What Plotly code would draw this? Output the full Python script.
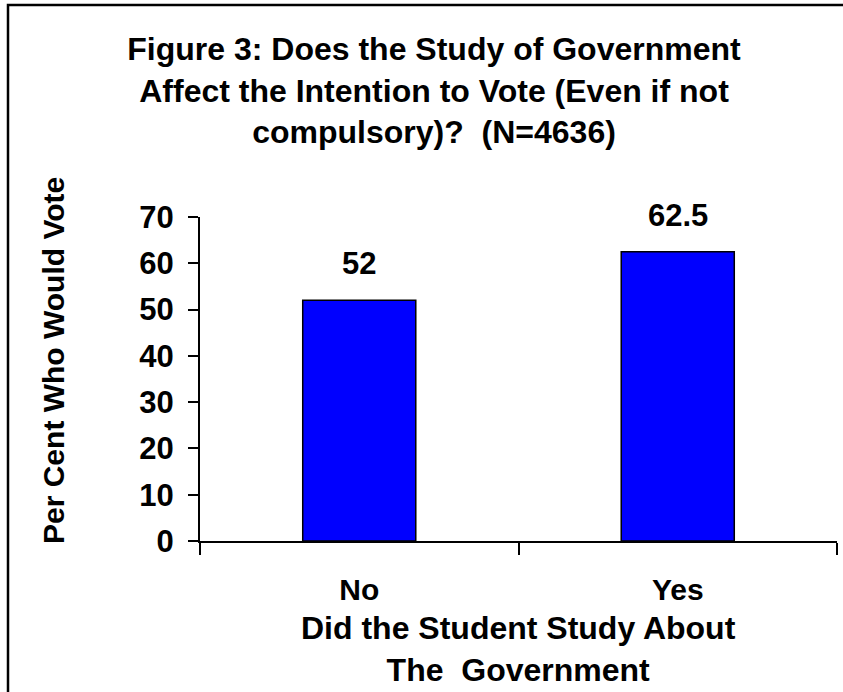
import plotly.graph_objects as go

# Survey result: share of students who would vote, by whether they studied government
categories = ["No", "Yes"]
percent_vote = [52, 62.5]
y_ticks = [0, 10, 20, 30, 40, 50, 60, 70]

title_text = ("Figure 3: Does the Study of Government<br>"
              "Affect the Intention to Vote (Even if not<br>"
              "compulsory)?\u00a0\u00a0(N=4636)")
x_title = "Did the Student Study About<br>The\u00a0\u00a0Government"
y_title = "Per Cent Who Would Vote"

FONT = "Liberation Sans, Arial, sans-serif"
W, H = 843, 692
L, R, T, B = 200, 6, 217, 151
plot_w = W - L - R
plot_h = H - T - B

xs = list(range(len(categories)))
bounds = [i - 0.5 for i in range(len(categories) + 1)]

fig = go.Figure()
fig.add_trace(go.Bar(
    x=xs, y=percent_vote, width=0.355,
    marker=dict(color="#0000FF", line=dict(color="black", width=1.5)),
    hoverinfo="skip",
))

# value labels above each bar
for x, v in zip(xs, percent_vote):
    fig.add_annotation(x=x, y=v, text=f"{v:g}", showarrow=False,
                       xanchor="center", yanchor="bottom", yshift=17,
                       font=dict(family=FONT, size=31, color="black", weight="bold"))

# vertical axis title
fig.add_annotation(xref="paper", yref="paper",
                   x=(53 - L) / plot_w, y=(H - B - 361) / plot_h,
                   text=y_title, textangle=-90, showarrow=False,
                   xanchor="center", yanchor="middle",
                   font=dict(family=FONT, size=30, color="black", weight="bold"))

# horizontal axis title
fig.add_annotation(xref="paper", yref="paper",
                   x=0.5, y=-(608 - (H - B)) / plot_h,
                   text=x_title, showarrow=False,
                   xanchor="center", yanchor="top",
                   font=dict(family=FONT, size=32, color="black", weight="bold"))

# outer frame around the chart
fig.add_shape(type="rect", xref="paper", yref="paper",
              x0=(8 - L) / plot_w, x1=(W + 20 - L) / plot_w,
              y0=-(H + 20 - (H - B)) / plot_h, y1=(H - B - 5) / plot_h,
              line=dict(color="black", width=2.5), fillcolor="rgba(0,0,0,0)",
              layer="above")

fig.update_layout(
    width=W, height=H,
    margin=dict(l=L, r=R, t=T, b=B, pad=0),
    paper_bgcolor="white", plot_bgcolor="white",
    showlegend=False,
    title=dict(text=title_text, x=434 / W, xanchor="center",
               y=1 - 60 / H, yanchor="top", xref="container", yref="container",
               font=dict(family=FONT, size=32, color="black", weight="bold")),
    xaxis=dict(
        range=[bounds[0], bounds[-1]],
        tickmode="array", tickvals=xs, ticktext=categories,
        ticks="outside", ticklen=21, tickcolor="rgba(0,0,0,0)",
        tickfont=dict(family=FONT, size=30, color="black", weight="bold"),
        showline=True, linecolor="black", linewidth=2,
        showgrid=False, zeroline=False,
        minor=dict(tickmode="array", tickvals=bounds, ticks="outside",
                   ticklen=12, tickwidth=2, tickcolor="black", showgrid=False),
    ),
    yaxis=dict(
        range=[0, 70], tickmode="array", tickvals=y_ticks,
        ticks="outside", ticklen=10, tickwidth=2, tickcolor="black",
        tickfont=dict(family=FONT, size=31, color="black", weight="bold"),
        showline=True, linecolor="black", linewidth=2,
        showgrid=False, zeroline=False,
        ticklabelstandoff=8,
    ),
)

fig.write_html("out.html")
